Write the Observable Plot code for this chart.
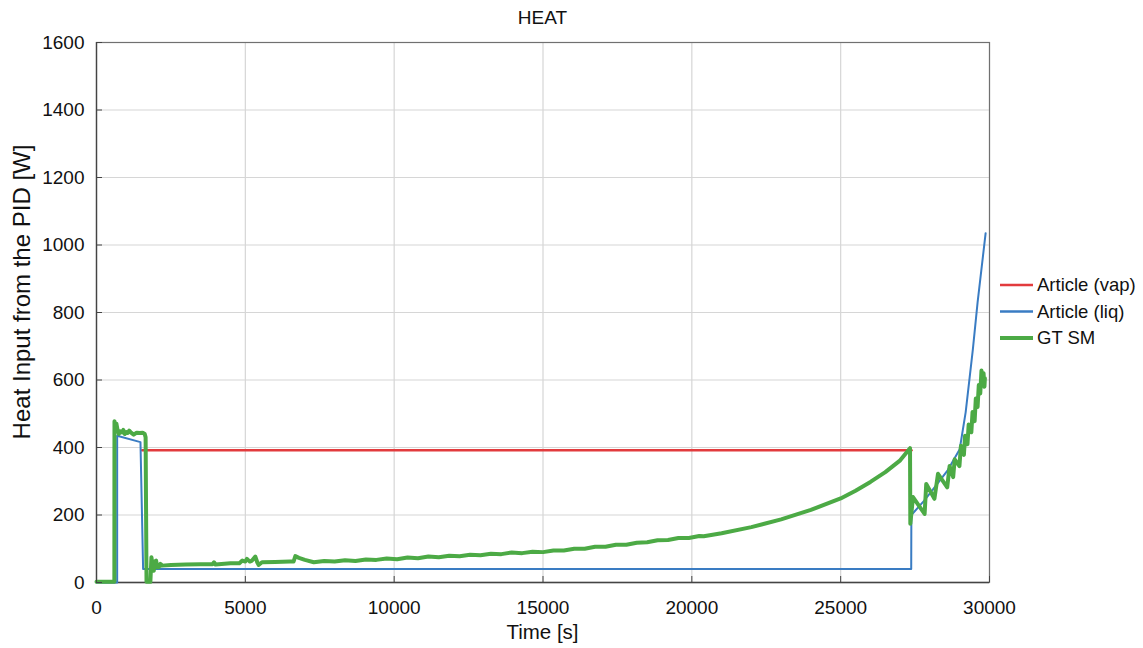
<!DOCTYPE html>
<html><head><meta charset="utf-8">
<script src="https://cdn.jsdelivr.net/npm/d3@7"></script>
<script src="https://cdn.jsdelivr.net/npm/@observablehq/plot@0.6"></script>
<style>
body{margin:0;background:#fff;}
svg{font-family:"Liberation Sans",Arial,sans-serif;}
</style>
</head><body><div id="chart"></div>
<script>
const titleText = "HEAT";
const xLabel = "Time [s]";
const yLabel = "Heat Input from the PID [W]";
const seriesNames = ["Article (vap)", "Article (liq)", "GT SM"];
const seriesColors = ["#e23b3d", "#3a7cc3", "#4caa45"];
const seriesWidths = [2.5, 2, 4];

const xTicks = [0, 5000, 10000, 15000, 20000, 25000, 30000];
const yTicks = [0, 200, 400, 600, 800, 1000, 1200, 1400, 1600];

const vapTime = [1533, 27380];
const vapHeat = [392, 392];

const liqTime = [0, 694, 694, 1477, 1566, 27370, 27375, 27800, 28200, 28600, 29000, 29200, 29440, 29600, 29870];
const liqHeat = [0, 0, 435, 416, 40, 40, 200, 242, 287, 333, 395, 505, 690, 830, 1035];

const gtTime = [0, 600, 604, 640, 670, 700, 750, 800, 850, 900, 950, 1000, 1050, 1100, 1150, 1250, 1350, 1450, 1550, 1620, 1650, 1680, 1810, 1846, 1900, 1924, 1960, 2002, 2050, 2091, 2150, 2202, 2500, 3000, 3500, 3900, 3950, 4000, 4500, 4800, 4900, 5000, 5055, 5150, 5225, 5336, 5400, 5446, 5560, 6000, 6500, 6620, 6680, 6800, 7000,
  7300, 7650, 8000, 8350, 8700, 9050, 9400, 9750, 10100, 10450, 10800, 11150, 11500, 11850, 12200, 12550, 12900, 13250, 13600, 13950, 14300, 14650, 15000, 15350, 15700, 16050, 16400, 16750, 17100, 17450, 17800, 18150, 18500, 18850, 19200, 19550, 19900, 20250, 20400,
  21000, 22000, 23000, 24000, 25000, 25500, 26000, 26500, 27000, 27330, 27340, 27430, 27820, 27875, 28150, 28270, 28580, 28660, 28780, 28830, 28990, 29040, 29140, 29180, 29260, 29300, 29390, 29430, 29500, 29540, 29600, 29640, 29690, 29730, 29780, 29800, 29830, 29845];
const gtHeat = [2, 2, 478, 465, 470, 455, 440, 448, 445, 452, 440, 446, 443, 450, 445, 438, 444, 443, 444, 440, 430, 2, 2, 75, 40, 35, 62, 65, 45, 45, 55, 50, 52, 53, 54, 54, 60, 53, 57, 57, 65, 62, 70, 62, 65, 77, 60, 52, 60, 61, 62, 62, 78, 73, 67,
  60, 64, 62, 66, 64, 68, 67, 71, 69, 74, 72, 77, 75, 79, 78, 82, 81, 85, 84, 89, 87, 91, 90, 95, 95, 100, 100, 106, 106, 112, 112, 118, 119, 125, 126, 132, 132, 138, 137,
  146, 164, 187, 215, 249, 272, 298, 327, 362, 398, 174, 253, 203, 292, 248, 322, 282, 345, 312, 365, 345, 405, 378, 435, 410, 468, 445, 505, 478, 545, 520, 585, 560, 628, 590, 620, 580, 605];

const rows = (t, v) => t.map((x, i) => ({time: x, heat: v[i]}));
const vapData = rows(vapTime, vapHeat);
const liqData = rows(liqTime, liqHeat);
const gtData = rows(gtTime, gtHeat);

const W = 1143, H = 648;
const mL = 96, mR = 154, mT = 42, mB = 66;

const chart = Plot.plot({
  width: W, height: H,
  marginLeft: mL, marginRight: mR, marginTop: mT, marginBottom: mB,
  style: {fontFamily: "'Liberation Sans', Arial, sans-serif", fontSize: "19px", color: "#111", background: "#fff"},
  x: {domain: [0, 30000], ticks: xTicks},
  y: {domain: [0, 1600], ticks: yTicks},
  marks: [
    Plot.gridX(xTicks, {stroke: "#d6d6d6", strokeOpacity: 1, strokeWidth: 1.2}),
    Plot.gridY(yTicks, {stroke: "#d6d6d6", strokeOpacity: 1, strokeWidth: 1.2}),
    Plot.frame({stroke: "#707070", strokeWidth: 1.2}),
    Plot.ruleX([0], {stroke: "#444", strokeWidth: 1.3}),
    Plot.ruleY([0], {stroke: "#444", strokeWidth: 1.3}),
    Plot.line(vapData, {x: "time", y: "heat", stroke: seriesColors[0], strokeWidth: seriesWidths[0]}),
    Plot.line(liqData, {x: "time", y: "heat", stroke: seriesColors[1], strokeWidth: seriesWidths[1]}),
    Plot.line(gtData, {x: "time", y: "heat", stroke: seriesColors[2], strokeWidth: seriesWidths[2], strokeLinejoin: "round"}),
    Plot.axisX(xTicks, {tickSize: -6, tickPadding: 24, label: null, fontSize: 19, stroke: "#444", fill: "#111", tickFormat: d => String(d)}),
    Plot.axisY(yTicks, {tickSize: -6, tickPadding: 18, label: null, fontSize: 19, stroke: "#444", fill: "#111", tickFormat: d => String(d)})
  ]
});

document.getElementById("chart").appendChild(chart);
const svg = d3.select(chart);
const plotCx = mL + (W - mL - mR) / 2;

svg.append("text").attr("x", plotCx).attr("y", 24).attr("text-anchor", "middle")
  .attr("font-size", 19).attr("fill", "#111").text(titleText);
svg.append("text").attr("x", plotCx).attr("y", 639).attr("text-anchor", "middle")
  .attr("font-size", 20.5).attr("fill", "#111").text(xLabel);
svg.append("text").attr("transform", "translate(30,292) rotate(-90)").attr("text-anchor", "middle")
  .attr("font-size", 24).attr("fill", "#111").text(yLabel);

const lg = svg.append("g").attr("transform", `translate(${W - mR + 11},285)`);
seriesNames.forEach((name, i) => {
  const g = lg.append("g").attr("transform", `translate(0,${i * 26.5})`);
  g.append("line").attr("x1", 0).attr("x2", 33).attr("y1", 0).attr("y2", 0)
    .attr("stroke", seriesColors[i]).attr("stroke-width", i === 2 ? 4 : 2.5);
  g.append("text").attr("x", 37).attr("y", 0).attr("dy", "0.35em").attr("text-anchor", "start")
    .attr("font-size", 18.5).attr("fill", "#111").text(name);
});
</script>
</body></html>
